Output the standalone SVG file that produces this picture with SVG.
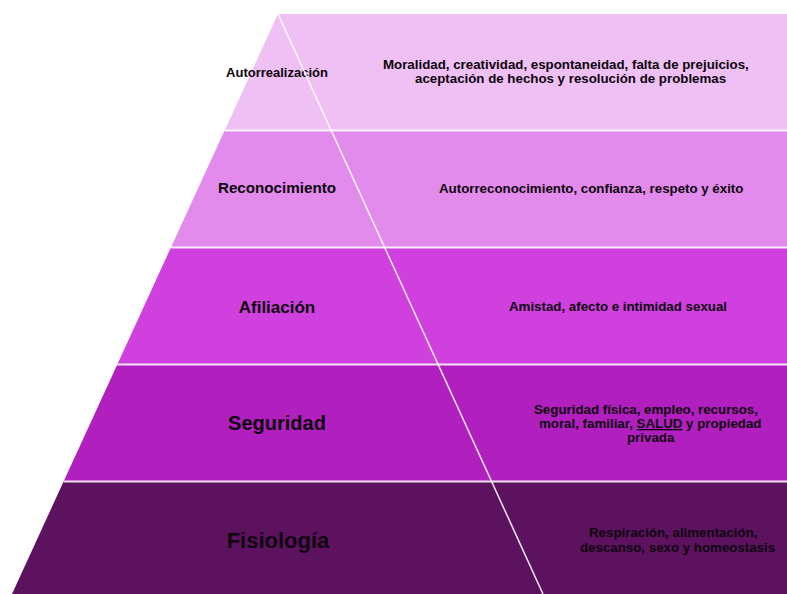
<svg xmlns="http://www.w3.org/2000/svg" width="787" height="594" viewBox="0 0 787 594">
  <style>
    .lbl { font-family: "Liberation Sans", Arial, sans-serif; font-weight: bold; fill: #0d040d; text-anchor: middle; }
    .desc { font-family: "Liberation Sans", Arial, sans-serif; font-weight: bold; font-size: 13.3px; fill: #0d040d; }
    .sep { stroke: #ffffff; stroke-opacity: 0.85; stroke-width: 2; fill: none; }
    .diag { stroke: #ffffff; stroke-opacity: 0.9; stroke-width: 1.5; fill: none; }
  </style>
  <rect width="787" height="594" fill="#ffffff"/>

  <!-- pyramid levels, top to bottom -->
  <g id="autorrealizacion">
    <polygon points="278,14 787,14 787,130.5 224.6,130.5" fill="#efc0f3"/>
    <text class="lbl" x="277" y="77" font-size="13">Autorrealización</text>
    <text class="desc" x="383" y="69">Moralidad, creatividad, espontaneidad, falta de prejuicios,</text>
    <text class="desc" x="415" y="83">aceptación de hechos y resolución de problemas</text>
  </g>

  <g id="reconocimiento">
    <polygon points="224.6,130.5 787,130.5 787,247.5 170.9,247.5" fill="#e28bec"/>
    <text class="lbl" x="277" y="193" font-size="15.2">Reconocimiento</text>
    <text class="desc" x="439" y="193">Autorreconocimiento,  confianza, respeto y éxito</text>
  </g>

  <g id="afiliacion">
    <polygon points="170.9,247.5 787,247.5 787,364.5 117.3,364.5" fill="#cf40de"/>
    <text class="lbl" x="277" y="313" font-size="17">Afiliación</text>
    <text class="desc" x="509" y="311">Amistad,  afecto e intimidad sexual</text>
  </g>

  <g id="seguridad">
    <polygon points="117.3,364.5 787,364.5 787,481.5 63.6,481.5" fill="#b11fbe"/>
    <text class="lbl" x="277" y="430" font-size="20">Seguridad</text>
    <text class="desc" x="534" y="414">Seguridad física, empleo, recursos,</text>
    <text class="desc" x="539" y="428">moral, familiar, <tspan text-decoration="underline">SALUD</tspan> y propiedad</text>
    <text class="desc" x="627" y="442">privada</text>
  </g>

  <g id="fisiologia">
    <polygon points="63.6,481.5 787,481.5 787,594 12,594" fill="#5d1260"/>
    <text class="lbl" x="278" y="548" font-size="22">Fisiología</text>
    <text class="desc" x="589" y="537">Respiración, alimentación,</text>
    <text class="desc" x="580" y="552">descanso, sexo y homeostasis</text>
  </g>

  <!-- level dividers and the slanted split line -->
  <g id="connectors">
    <line class="sep" x1="224.6" y1="130.5" x2="787" y2="130.5"/>
    <line class="sep" x1="170.9" y1="247.5" x2="787" y2="247.5"/>
    <line class="sep" x1="117.3" y1="364.5" x2="787" y2="364.5"/>
    <line class="sep" x1="63.6" y1="481.5" x2="787" y2="481.5"/>
    <line class="diag" x1="278" y1="14" x2="543" y2="594"/>
  </g>
</svg>
